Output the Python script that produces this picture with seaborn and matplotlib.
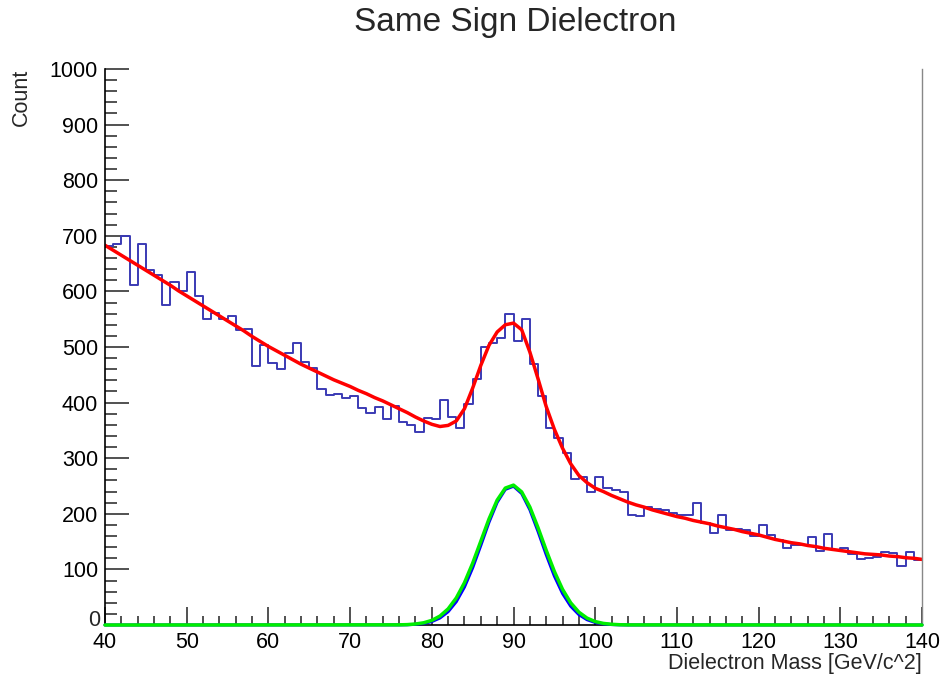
import numpy as np
import pandas as pd
import matplotlib
matplotlib.use("Agg")
import matplotlib.pyplot as plt
import seaborn as sns
from matplotlib.ticker import MultipleLocator, FuncFormatter

# ---------------- data ----------------
mass_lo, mass_hi = 40, 140          # histogram range, 1 GeV bins
counts = [682, 685, 700, 611, 686, 638, 629, 575, 617, 600,
          634, 592, 550, 561, 550, 555, 530, 533, 465, 504,
          471, 460, 490, 507, 473, 462, 424, 414, 415, 408,
          412, 390, 381, 392, 371, 394, 366, 360, 348, 372,
          370, 405, 375, 354, 397, 442, 500, 508, 517, 559,
          510, 550, 469, 411, 354, 336, 309, 262, 266, 239,
          267, 247, 243, 240, 198, 196, 212, 208, 206, 201,
          198, 197, 219, 184, 165, 198, 171, 173, 171, 160,
          179, 162, 153, 138, 143, 144, 158, 133, 164, 135,
          139, 128, 119, 120, 123, 132, 129, 107, 131, 117]

# total fit (red), sampled every 1 GeV from 40 to 140
fit_x = list(range(40, 141))
fit_total = [683, 674, 665, 656, 647, 638, 629, 620, 611, 601,
             592, 583, 574, 565, 556, 547, 538, 529, 519, 510,
             501, 493, 485, 477, 469, 462, 455, 448, 441, 435,
             429, 422, 416, 409, 403, 396, 389, 382, 374, 367,
             361, 357, 359, 367, 389, 426, 467, 503, 527, 540,
             543, 531, 491, 443, 393, 352, 318, 290, 269, 256,
             246, 240, 233, 227, 221, 216, 212, 207, 203, 199,
             195, 192, 188, 185, 182, 178, 175, 172, 168, 165,
             162, 158, 154, 151, 148, 146, 143, 141, 138, 136,
             134, 132, 130, 128, 127, 126, 124, 123, 121, 120, 118]

# signal components (green and blue), zero outside 76..104
sig_x = [40] + list(range(76, 105)) + [140]
sig_green = [0, 0.3, 0.7, 1.8, 4.0, 8.3, 16.1, 29.0, 48.7, 76.2, 111.1,
             150.8, 190.7, 224.6, 246.3, 251.6, 239.4, 212.2, 175.1, 134.6,
             96.4, 64.2, 39.9, 23.1, 12.4, 6.2, 2.9, 1.3, 0.5, 0.2, 0]
sig_blue = [0, 0.2, 0.4, 1.2, 2.8, 6.1, 12.6, 23.9, 42.0, 68.3, 102.8,
            143.2, 184.8, 220.6, 243.9, 249.6, 236.5, 207.4, 168.4, 126.6,
            88.1, 56.7, 33.8, 18.7, 9.5, 4.5, 2.0, 0.8, 0.3, 0.1, 0]

title = "Same Sign Dielectron"
xlabel = "Dielectron Mass [GeV/c^2]"
ylabel = "Count"

# ---------------- plot ----------------
sns.set_style("ticks")
plt.rcParams["font.family"] = ["Liberation Sans", "DejaVu Sans"]

W, H = 946, 678
fig = plt.figure(figsize=(W / 100, H / 100), dpi=100)
ax = fig.add_axes([105 / W, 1 - 625 / H, 817 / W, 556 / H])

centers = [mass_lo + i + 0.5 for i in range(len(counts))]
df = pd.DataFrame({"mass": centers, "count": counts})
sns.histplot(data=df, x="mass", weights="count", bins=len(counts),
             binrange=(mass_lo, mass_hi),
             element="step", fill=False, color="#3a3ab4", linewidth=1.4, ax=ax)

sns.lineplot(x=fit_x, y=fit_total, color="#ff0000", linewidth=2.5,
             ax=ax, sort=False, estimator=None)
ax.lines[-1].set_solid_joinstyle("round")
sns.lineplot(x=sig_x, y=sig_blue, color="#0000ff", linewidth=2.2,
             ax=ax, sort=False, estimator=None)
ax.lines[-1].set_clip_on(False)
ax.lines[-1].set_zorder(3)
sns.lineplot(x=sig_x, y=sig_green, color="#00ee00", linewidth=2.5,
             ax=ax, sort=False, estimator=None)
ax.lines[-1].set_clip_on(False)
ax.lines[-1].set_zorder(3.1)
ax.lines[-1].set_solid_joinstyle("round")

ax.set_xlim(mass_lo, mass_hi)
ax.set_ylim(0, 1000)
ax.xaxis.set_major_locator(MultipleLocator(10))
ax.xaxis.set_minor_locator(MultipleLocator(2))
ax.yaxis.set_major_locator(MultipleLocator(100))
ax.yaxis.set_minor_locator(MultipleLocator(20))
# the "0" of the y axis is placed by hand just above the "40" (as in ROOT)
ax.yaxis.set_major_formatter(FuncFormatter(lambda v, p: "" if v == 0 else f"{v:.0f}"))

ax.tick_params(axis="y", which="major", direction="in", length=17, width=1.1,
               labelsize=15.5, pad=5, colors="#222222", labelcolor="black")
ax.tick_params(axis="y", which="minor", direction="in", length=8.5, width=1.1,
               colors="#222222")
ax.tick_params(axis="x", which="major", direction="in", length=13, width=1.1,
               labelsize=15.5, pad=5, colors="#222222", labelcolor="black")
ax.tick_params(axis="x", which="minor", direction="in", length=6.5, width=1.1,
               colors="#222222")

for s in ["left", "bottom"]:
    ax.spines[s].set_color("black")
    ax.spines[s].set_linewidth(1.2)
ax.spines["right"].set_color("#888888")
ax.spines["right"].set_linewidth(1.0)
ax.spines["top"].set_visible(False)
ax.set_xlabel("")
ax.set_ylabel("")

fig.text(100 / W, 1 - 620 / H, "0", ha="right", va="center", fontsize=15.5)
fig.text(515 / W, 1 - 22 / H, title, ha="center", va="center", fontsize=24)
fig.text(922 / W, 1 - 663 / H, xlabel, ha="right", va="center", fontsize=15.5)
fig.text(21.5 / W, 1 - 69 / H, ylabel, ha="center", va="top", rotation=90,
         fontsize=15.5)

fig.savefig("out.png", dpi=100)
